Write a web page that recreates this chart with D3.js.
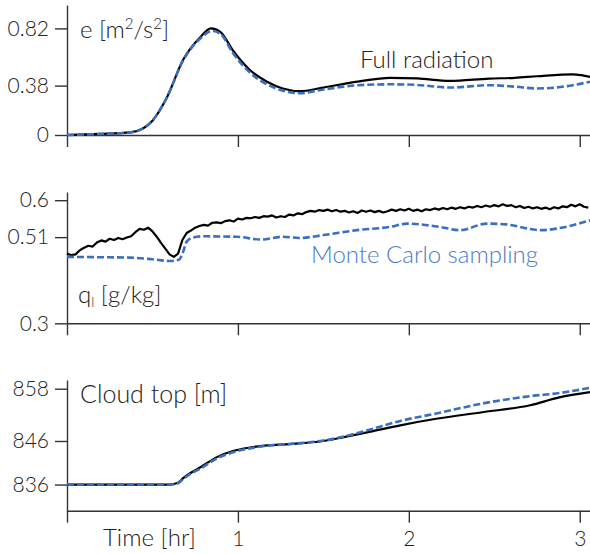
<!DOCTYPE html>
<html>
<head>
<meta charset="utf-8">
<script src="https://cdn.jsdelivr.net/npm/d3@7"></script>
<style>
body { margin: 0; background: #fff; }
svg { display: block; font-family: Lato, "Open Sans", sans-serif; }
.axis path, .axis line { stroke: #333; stroke-width: 1.4; }
.axis text { font-family: Lato, "Open Sans", sans-serif; font-size: 21px; font-weight: 300; fill: #222; }
.lbl { font-size: 24px; font-weight: 300; fill: #222; }
</style>
</head>
<body>
<svg id="chart" width="590" height="554"></svg>
<script>
// time axis [hr]
var timeTicks = [0, 1, 2, 3];

// panel 1: e [m2/s2]
var eTicks = [0, 0.38, 0.82];
var eTickLabels = ["0", "0.38", "0.82"];
var eFull = [[0,0],[0.19,0.008],[0.37,0.02],[0.444,0.05],[0.5,0.11],[0.585,0.29],[0.678,0.575],[0.778,0.75],[0.842,0.82],[0.9,0.79],[0.971,0.65],[1.07,0.5],[1.17,0.41],[1.263,0.358],[1.363,0.337],[1.5,0.365],[1.7,0.41],[1.89,0.44],[2.05,0.435],[2.24,0.416],[2.47,0.434],[2.62,0.44],[2.75,0.452],[2.96,0.467],[3.01,0.46],[3.06,0.447]];
var eMC = [[0,0],[0.19,0.008],[0.37,0.02],[0.444,0.05],[0.5,0.11],[0.585,0.29],[0.678,0.57],[0.778,0.74],[0.85,0.80],[0.9,0.775],[0.971,0.63],[1.07,0.48],[1.17,0.39],[1.263,0.34],[1.363,0.322],[1.5,0.35],[1.7,0.383],[1.89,0.39],[2.05,0.385],[2.24,0.365],[2.47,0.383],[2.62,0.372],[2.75,0.358],[2.96,0.383],[3.06,0.41]];

// panel 2: q_l [g/kg]
var qlTicks = [0.3, 0.51, 0.6];
var qlTickLabels = ["0.3", "0.51", "0.6"];
var qlFullStep = 0.025;
var qlFull = [0.470,0.466,0.468,0.478,0.484,0.489,0.487,0.497,0.502,0.499,0.506,0.503,0.508,0.505,0.509,0.512,0.522,0.530,0.528,0.533,
  0.524,0.511,0.496,0.482,0.468,0.462,0.470,0.503,0.520,0.526,0.533,0.537,0.540,0.538,0.545,0.546,0.544,0.549,0.551,0.548,
  0.555,0.553,0.557,0.556,0.559,0.557,0.561,0.560,0.563,0.558,0.561,0.559,0.565,0.563,0.568,0.566,0.571,0.574,0.572,0.576,
  0.574,0.577,0.573,0.576,0.572,0.574,0.570,0.573,0.569,0.575,0.572,0.575,0.571,0.574,0.570,0.573,0.577,0.574,0.578,0.575,
  0.579,0.574,0.577,0.573,0.578,0.576,0.580,0.577,0.581,0.578,0.582,0.579,0.583,0.580,0.584,0.582,0.586,0.583,0.587,0.584,
  0.588,0.585,0.590,0.586,0.588,0.583,0.586,0.581,0.584,0.580,0.583,0.579,0.582,0.578,0.583,0.580,0.585,0.583,0.589,0.585,
  0.590,0.584,0.582];
var qlMC = [[0,0.462],[0.2,0.461],[0.37,0.46],[0.5,0.456],[0.6,0.452],[0.655,0.455],[0.68,0.475],[0.70,0.499],[0.737,0.509],[0.795,0.512],[0.99,0.511],[1.14,0.504],[1.26,0.511],[1.36,0.508],[1.5,0.515],[1.696,0.527],[1.89,0.535],[1.99,0.543],[2.18,0.535],[2.3,0.527],[2.456,0.543],[2.57,0.541],[2.77,0.527],[2.94,0.537],[3.06,0.551]];

// panel 3: cloud top [m]
var ctTicks = [836, 846, 858];
var ctFull = [[0,836],[0.3,836],[0.6,836],[0.65,836.4],[0.678,837.4],[0.72,838.6],[0.778,839.9],[0.877,842.3],[0.971,843.7],[1.07,844.5],[1.17,845],[1.3,845.3],[1.5,846],[1.62,846.9],[1.77,848.1],[1.95,849.6],[2.16,851.1],[2.43,852.6],[2.71,854.2],[2.88,856],[3.06,857.2]];
var ctMC = [[0,836],[0.3,836],[0.6,836],[0.65,836.3],[0.678,837.2],[0.72,838.4],[0.778,839.6],[0.877,842],[0.971,843.4],[1.07,844.3],[1.17,844.9],[1.3,845.3],[1.5,846.1],[1.65,847.3],[1.77,848.6],[1.95,850.6],[2.16,852.3],[2.43,854.6],[2.71,856.3],[2.88,857],[3.06,858.2]];

var svg = d3.select("#chart");
var x = d3.scaleLinear().domain([0, 3.06]).range([67, 590]);

var panels = [
  {domain: [0, 1], range: [135, 5], ticks: eTicks, labels: eTickLabels, full: eFull, mc: eMC},
  {domain: [0.3, 0.62], range: [323.3, 192], ticks: qlTicks, labels: qlTickLabels,
    full: qlFull.map(function(v, i){ return [i*qlFullStep, v]; }), mc: qlMC},
  {domain: [830, 860], range: [510.7, 380], ticks: ctTicks, labels: ctTicks.map(String), full: ctFull, mc: ctMC}
];

panels.forEach(function(p, k){
  var y = d3.scaleLinear().domain(p.domain).range(p.range);

  svg.append("g")
    .attr("class", "axis")
    .attr("transform", "translate(0," + p.range[0] + ")")
    .call(d3.axisBottom(x).tickValues(timeTicks).tickSize(12).tickSizeOuter(0).tickPadding(8)
      .tickFormat(function(d){ return (k == 2 && d != 0) ? d : ""; }));

  svg.append("g")
    .attr("class", "axis")
    .attr("transform", "translate(" + x(0) + ",0)")
    .call(d3.axisLeft(y).tickValues(p.ticks).tickSize(12).tickSizeOuter(0).tickPadding(6)
      .tickFormat(function(d, i){ return p.labels[i]; }));

  //black line is noisy in the q_l panel, keep it straight there
  var fullLine = d3.line().x(function(d){ return x(d[0]); }).y(function(d){ return y(d[1]); })
    .curve(k == 1 ? d3.curveLinear : d3.curveMonotoneX);
  var mcLine = d3.line().x(function(d){ return x(d[0]); }).y(function(d){ return y(d[1]); })
    .curve(d3.curveMonotoneX);

  svg.append("path")
    .datum(p.full)
    .attr("d", fullLine)
    .attr("fill", "none")
    .attr("stroke", "#000")
    .attr("stroke-width", 2.2)
    .attr("stroke-linejoin", "round");

  svg.append("path")
    .datum(p.mc)
    .attr("d", mcLine)
    .attr("fill", "none")
    .attr("stroke", "#3a6fc0")
    .attr("stroke-width", 2.6)
    .attr("stroke-dasharray", "7,3");
});

// labels
var eLbl = svg.append("text").attr("class", "lbl").attr("x", 80).attr("y", 38);
eLbl.append("tspan").text("e [m");
eLbl.append("tspan").text("2").attr("font-size", 15).attr("dy", -9);
eLbl.append("tspan").text("/s").attr("dy", 9);
eLbl.append("tspan").text("2").attr("font-size", 15).attr("dy", -9);
eLbl.append("tspan").text("]").attr("dy", 9);

svg.append("text").attr("class", "lbl").attr("x", 360).attr("y", 68).text("Full radiation");

svg.append("text").attr("class", "lbl").attr("x", 311).attr("y", 263)
  .style("fill", "#4a7cc4").text("Monte Carlo sampling");

var qLbl = svg.append("text").attr("class", "lbl").attr("x", 78).attr("y", 303);
qLbl.append("tspan").text("q");
qLbl.append("tspan").text("l").attr("font-size", 14).attr("dy", 4);
qLbl.append("tspan").text(" [g/kg]").attr("dy", -4);

svg.append("text").attr("class", "lbl").attr("x", 80).attr("y", 403).style("font-size", "25px").text("Cloud top [m]");
svg.append("text").attr("class", "lbl").attr("x", 103).attr("y", 546).text("Time [hr]");
</script>
</body>
</html>
